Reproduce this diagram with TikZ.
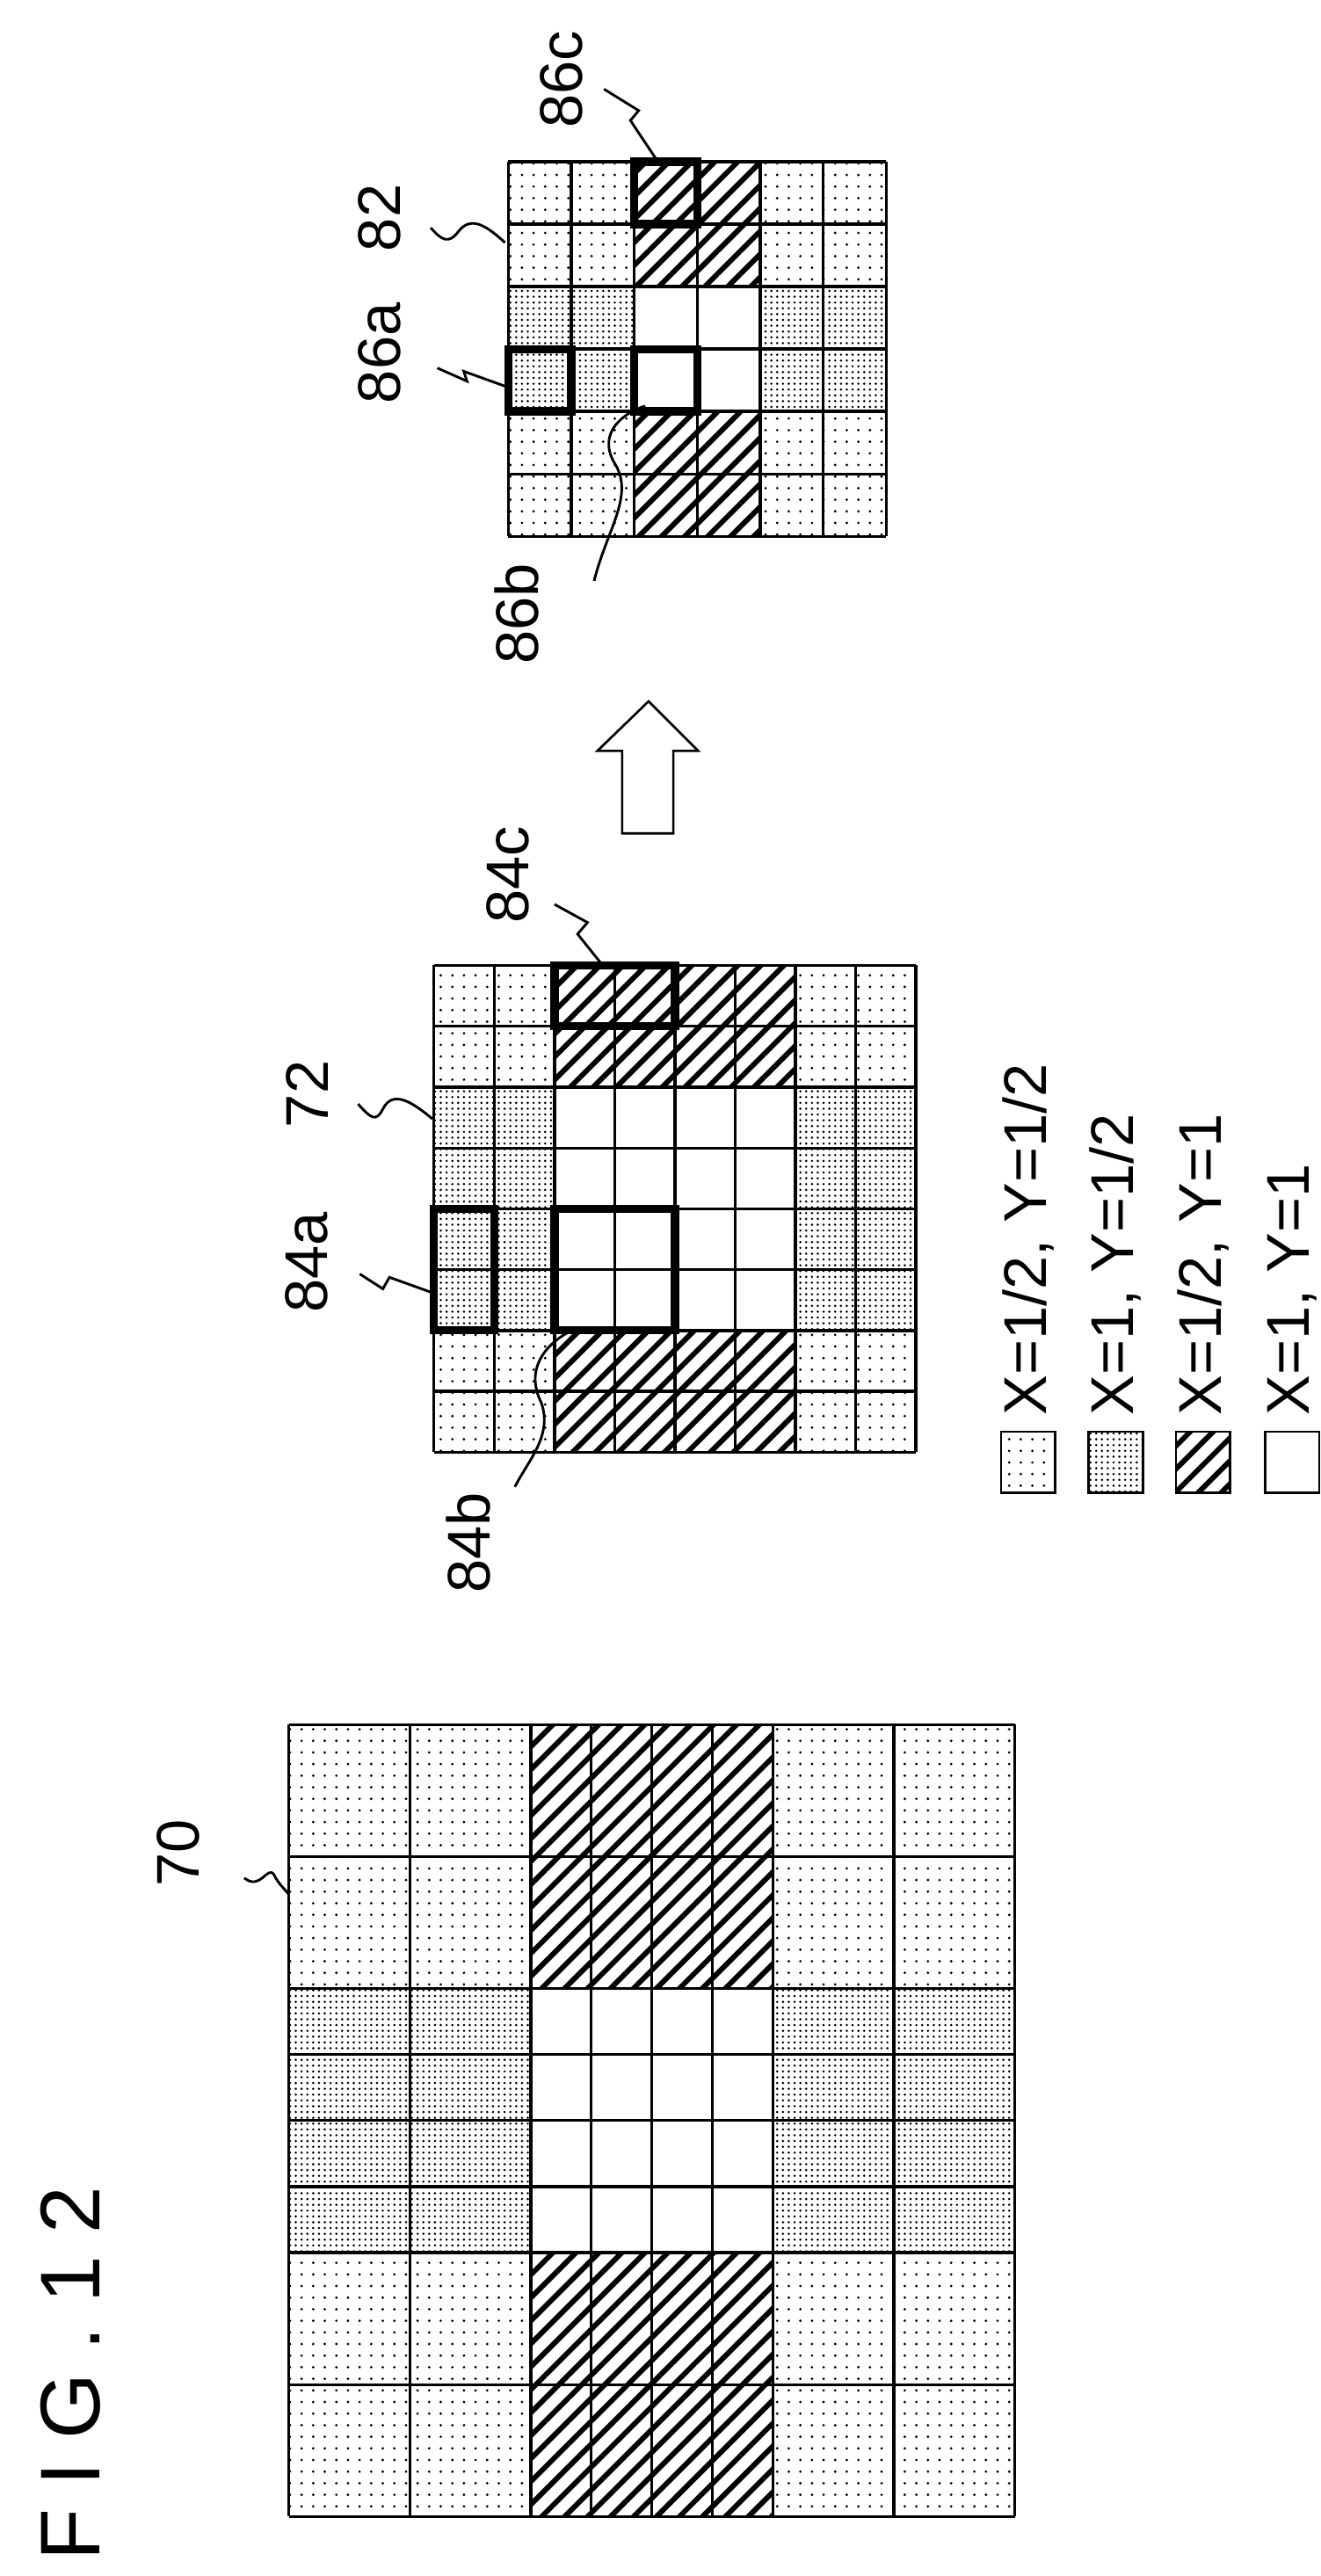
\documentclass[tikz,border=0pt]{standalone}
\usepackage{fontspec}
\setmainfont{Liberation Sans}
\usetikzlibrary{patterns.meta,positioning}

\tikzset{
  lightdot/.style={pattern={Dots[distance=10pt,radius=1.2pt]}},
  darkdot/.style={pattern={Dots[distance=5pt,radius=1.1pt]}},
  hatch/.style={pattern={Lines[angle=45,distance=14pt,line width=4.5pt]}},
  gridline/.style={line width=2.5pt},
  pick/.style={line width=7pt},
  leader/.style={line width=2.2pt},
  keybox/.style={draw,line width=2pt,inner sep=0pt,minimum width=46.9pt,minimum height=52.6pt},
  refnum/.style={font=\fontsize{52}{52}\selectfont,rotate=90,inner sep=0pt},
}

\begin{document}
\begin{tikzpicture}[x=0.05cm,y=-0.05cm]
    \useasboundingbox (0,0) rectangle (800,1561);

    % source frame 70
    \fill[lightdot] (175,1045) rectangle (321.7,1205);
    \fill[lightdot] (468.3,1045) rectangle (615,1205);
    \fill[lightdot] (175,1365) rectangle (321.7,1525);
    \fill[lightdot] (468.3,1365) rectangle (615,1525);
    \fill[hatch] (321.7,1045) rectangle (468.3,1205);
    \fill[hatch] (321.7,1365) rectangle (468.3,1525);
    \fill[darkdot] (175,1205) rectangle (321.7,1365);
    \fill[darkdot] (468.3,1205) rectangle (615,1365);
    \foreach \x in {175,248.3,321.7,358.3,395,431.7,468.3,541.7,615}
        \draw[gridline] (\x,1045) -- (\x,1525);
    \foreach \y in {1045,1125,1205,1245,1285,1325,1365,1445,1525}
        \draw[gridline] (175,\y) -- (615,\y);

    % reduced frame 72
    \fill[lightdot] (263,585) rectangle (336,658.75);
    \fill[lightdot] (482,585) rectangle (555,658.75);
    \fill[lightdot] (263,806.25) rectangle (336,880);
    \fill[lightdot] (482,806.25) rectangle (555,880);
    \fill[hatch] (336,585) rectangle (482,658.75);
    \fill[hatch] (336,806.25) rectangle (482,880);
    \fill[darkdot] (263,658.75) rectangle (336,806.25);
    \fill[darkdot] (482,658.75) rectangle (555,806.25);
    \foreach \i in {0,...,8} {
        \draw[gridline] (263+36.5*\i,585) -- (263+36.5*\i,880);
        \draw[gridline] (263,585+36.875*\i) -- (555,585+36.875*\i);
    }
    \draw[pick] (336,585) rectangle (409,621.9);
    \draw[pick] (263,732.5) rectangle (299.5,806.25);
    \draw[pick] (336,732.5) rectangle (409,806.25);

    % reduced frame 82
    \fill[lightdot] (308,98) rectangle (384.3,173.7);
    \fill[lightdot] (460.7,98) rectangle (537,173.7);
    \fill[lightdot] (308,249.3) rectangle (384.3,325);
    \fill[lightdot] (460.7,249.3) rectangle (537,325);
    \fill[hatch] (384.3,98) rectangle (460.7,173.7);
    \fill[hatch] (384.3,249.3) rectangle (460.7,325);
    \fill[darkdot] (308,173.7) rectangle (384.3,249.3);
    \fill[darkdot] (460.7,173.7) rectangle (537,249.3);
    \foreach \i in {0,...,6} {
        \draw[gridline] (308+38.17*\i,98) -- (308+38.17*\i,325);
        \draw[gridline] (308,98+37.83*\i) -- (537,98+37.83*\i);
    }
    \draw[pick] (384.3,98) rectangle (422.5,135.8);
    \draw[pick] (308,211.5) rectangle (346.2,249.3);
    \draw[pick] (384.3,211.5) rectangle (422.5,249.3);

    % hollow arrow
    \draw[line width=2pt] (393,425) -- (423,455) -- (408,455) -- (408,505)
        -- (377,505) -- (377,455) -- (362,455) -- cycle;

    % reference numerals
    \node[refnum] (n70) at (108,1123) {70};
    \node[refnum] (n72) at (186,663) {72};
    \node[refnum] (n84a) at (186,765) {84a};
    \node[refnum] (n84b) at (284,935) {84b};
    \node[refnum] (n84c) at (308,530) {84c};
    \node[refnum] (n82) at (230,132) {82};
    \node[refnum] (n86a) at (230,214) {86a};
    \node[refnum] (n86b) at (313,372) {86b};
    \node[refnum] (n86c) at (340,48) {86c};

    \coordinate (e70) at (175,1148);
    \coordinate (e72) at (262,678);
    \coordinate (e84a) at (261,783);
    \coordinate (e84b) at (345,807);
    \coordinate (e84c) at (366,586);
    \coordinate (e82) at (306,147);
    \coordinate (e86a) at (306,234);
    \coordinate (e86b) at (391,246);
    \coordinate (e86c) at (398,97);

    \draw[leader] (148,1138) .. controls (158,1146) and (162,1130) .. (166,1136) .. controls (169,1142) and (172,1144) .. (e70);
    \draw[leader] (217,669) .. controls (225,678) and (228,680) .. (232,672) .. controls (238,660) and (250,668) .. (e72);
    \draw[leader] (218,772) -- (232,781) -- (236,774) -- (e84a);
    \draw[leader] (312,901) .. controls (320,885) and (335,870) .. (328,850) .. controls (318,830) and (330,815) .. (e84b);
    \draw[leader] (336,548) -- (356,559) -- (350,566) -- (e84c);
    \draw[leader] (261,138) .. controls (268,146) and (272,148) .. (278,140) .. controls (286,130) and (296,138) .. (e82);
    \draw[leader] (265,223) -- (283,231) -- (281,225) -- (e86a);
    \draw[leader] (360,352) .. controls (368,320) and (385,300) .. (372,280) .. controls (362,262) and (378,250) .. (e86b);
    \draw[leader] (366,54) -- (387,67) -- (382,73) -- (e86c);

    % legend
    \node[keybox,lightdot] (k1) at (623,886) {};
    \node[keybox,darkdot] (k2) at (676,886) {};
    \node[keybox,hatch] (k3) at (729,886) {};
    \node[keybox] (k4) at (783,886) {};
    \node[refnum,anchor=west] (t1) at (623,858) {X=1/2, Y=1/2};
    \node[refnum,anchor=west] (t2) at (676,858) {X=1, Y=1/2};
    \node[refnum,anchor=west] (t3) at (729,858) {X=1/2, Y=1};
    \node[refnum,anchor=west] (t4) at (783,858) {X=1, Y=1};

    % figure title
    \node[rotate=90,anchor=west,inner sep=0pt,font=\fontsize{73}{73}\selectfont] (fig) at (43,1552)
        {F\hspace{20pt}I\hspace{20pt}G\hspace{20pt}.\hspace{20pt}1\hspace{20pt}2};
\end{tikzpicture}
\end{document}
